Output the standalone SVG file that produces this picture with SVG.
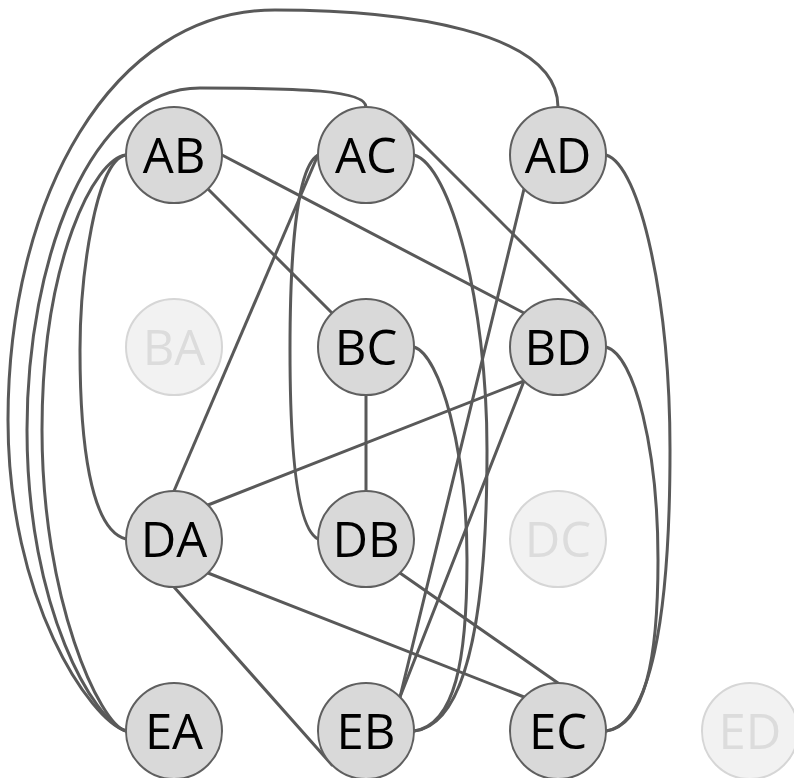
<svg xmlns="http://www.w3.org/2000/svg" width="794" height="778" viewBox="0 0 794 778">
  <style>
    .edge { fill: none; stroke: #595959; stroke-width: 3; stroke-linecap: round; }
    .node circle { fill: #d9d9d9; stroke: #5f5f5f; stroke-width: 2; }
    .node text { font-family: "Open Sans", "Liberation Sans", sans-serif; font-size: 49px; fill: #000; text-anchor: middle; }
    .node.off circle { fill: #f2f2f2; stroke: #d6d6d6; }
    .node.off text { fill: #dcdcdc; }
  </style>
  <rect width="794" height="778" fill="#ffffff"/>

  <g id="connectors">
    <!-- long curves on the left into EA -->
    <path class="edge" d="M558,107 C558,30 400,10 275,10 C110,10 8,200 8,420 C8,600 90,720 126,731"/>
    <path class="edge" d="M366,107 C366,90 300,88 200,88 C90,88 27,260 27,430 C27,610 95,722 126,731"/>
    <path class="edge" d="M126,155 C95,158 42,260 42,430 C42,600 100,725 126,731"/>
    <path class="edge" d="M126,155 C95,160 80,280 80,350 C80,440 90,530 126,539"/>
    <!-- straight links -->
    <path class="edge" d="M208,189 L332,313"/>
    <path class="edge" d="M222,155 L524,313"/>
    <path class="edge" d="M318,155 L174,491"/>
    <path class="edge" d="M400,121 L592,313"/>
    <path class="edge" d="M524,189 L400,697"/>
    <path class="edge" d="M366,395 L366,491"/>
    <path class="edge" d="M524,381 L208,505"/>
    <path class="edge" d="M524,381 L400,697"/>
    <path class="edge" d="M208,573 L524,697"/>
    <path class="edge" d="M400,573 L558,683"/>
    <path class="edge" d="M174,587 L332,765"/>
    <!-- curved links -->
    <path class="edge" d="M318,155 C300,165 290,230 290,350 C290,470 300,530 318,539"/>
    <path class="edge" d="M414,155 C450,165 487,300 487,450 C487,600 470,725 414,731"/>
    <path class="edge" d="M414,347 C440,355 467,450 467,560 C467,660 455,725 414,731"/>
    <path class="edge" d="M606,155 C640,165 670,300 670,450 C670,620 650,725 606,731"/>
    <path class="edge" d="M606,347 C635,355 658,450 658,560 C658,660 645,725 606,731"/>
  </g>

  <g id="AB" class="node"><circle cx="174" cy="155" r="48"/><text x="174" y="172.5">AB</text></g>
  <g id="AC" class="node"><circle cx="366" cy="155" r="48"/><text x="366" y="172.5">AC</text></g>
  <g id="AD" class="node"><circle cx="558" cy="155" r="48"/><text x="558" y="172.5">AD</text></g>
  <g id="BA" class="node off"><circle cx="174" cy="347" r="48"/><text x="174" y="364.5">BA</text></g>
  <g id="BC" class="node"><circle cx="366" cy="347" r="48"/><text x="366" y="364.5">BC</text></g>
  <g id="BD" class="node"><circle cx="558" cy="347" r="48"/><text x="558" y="364.5">BD</text></g>
  <g id="DA" class="node"><circle cx="174" cy="539" r="48"/><text x="174" y="556.5">DA</text></g>
  <g id="DB" class="node"><circle cx="366" cy="539" r="48"/><text x="366" y="556.5">DB</text></g>
  <g id="DC" class="node off"><circle cx="558" cy="539" r="48"/><text x="558" y="556.5">DC</text></g>
  <g id="EA" class="node"><circle cx="174" cy="731" r="48"/><text x="174" y="748.5">EA</text></g>
  <g id="EB" class="node"><circle cx="366" cy="731" r="48"/><text x="366" y="748.5">EB</text></g>
  <g id="EC" class="node"><circle cx="558" cy="731" r="48"/><text x="558" y="748.5">EC</text></g>
  <g id="ED" class="node off"><circle cx="750" cy="731" r="48"/><text x="750" y="748.5">ED</text></g>
</svg>
